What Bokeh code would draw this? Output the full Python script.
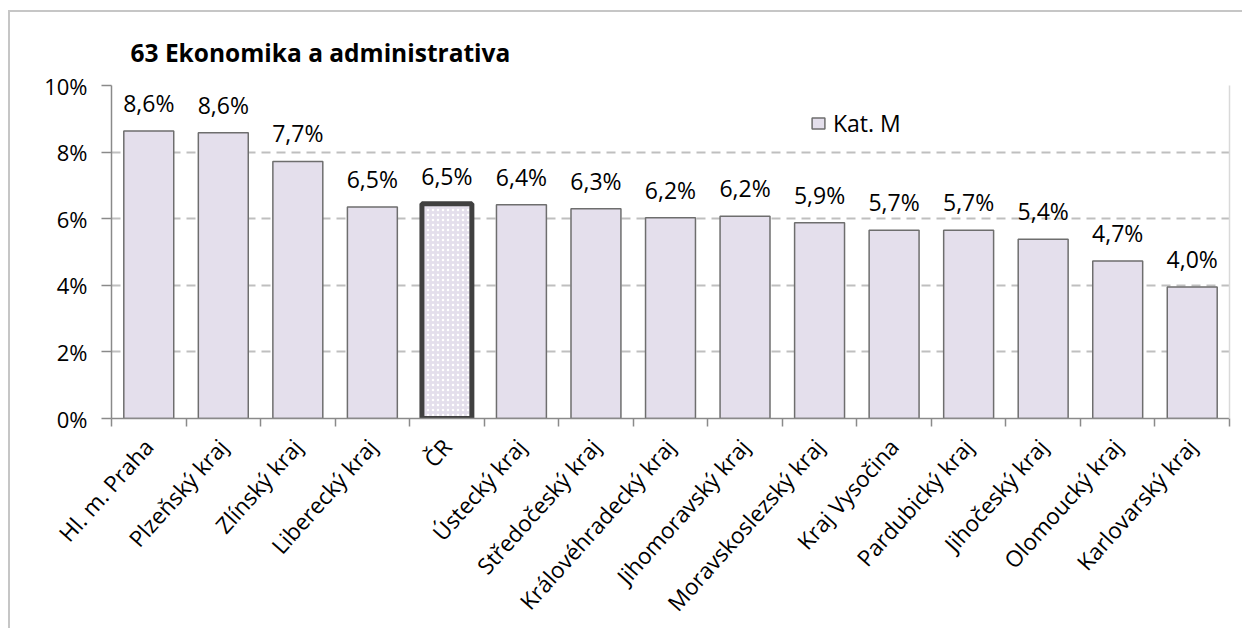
from bokeh.plotting import figure
from bokeh.models import (ColumnDataSource, LabelSet, Legend, LegendItem,
                          FixedTicker, PrintfTickFormatter, LinearAxis, Range1d)
from bokeh.core.properties import value
from bokeh.embed import file_html
from bokeh.resources import INLINE

# ---- data ----
chart_title = "63 Ekonomika a administrativa"
series_name = "Kat. M"
categories = ["Hl. m. Praha", "Plzeňský kraj", "Zlínský kraj", "Liberecký kraj", "ČR",
              "Ústecký kraj", "Středočeský kraj", "Královéhradecký kraj", "Jihomoravský kraj",
              "Moravskoslezský kraj", "Kraj Vysočina", "Pardubický kraj", "Jihočeský kraj",
              "Olomoucký kraj", "Karlovarský kraj"]
values = [8.63, 8.58, 7.72, 6.35, 6.45, 6.42, 6.30, 6.03, 6.07, 5.88, 5.65, 5.65, 5.38, 4.73, 3.95]
value_labels = ["8,6%", "8,6%", "7,7%", "6,5%", "6,5%", "6,4%", "6,3%", "6,2%", "6,2%",
                "5,9%", "5,7%", "5,7%", "5,4%", "4,7%", "4,0%"]
y_ticks = [0, 2, 4, 6, 8, 10]
highlight = "ČR"

FONT = "Open Sans"
n = len(categories)
xs = list(range(n))

main_idx = [i for i in xs if categories[i] != highlight]
hl_idx = [i for i in xs if categories[i] == highlight]

src_main = ColumnDataSource(dict(x=[xs[i] for i in main_idx], top=[values[i] for i in main_idx]))
src_hl = ColumnDataSource(dict(x=[xs[i] for i in hl_idx], top=[values[i] for i in hl_idx]))
src_lab = ColumnDataSource(dict(x=xs, top=values, label=value_labels))

p = figure(width=1234, height=618,
           x_range=Range1d(-0.5, n - 0.5), y_range=Range1d(y_ticks[0], y_ticks[-1]),
           output_backend="svg", toolbar_location=None,
           min_border_left=101, min_border_right=15, min_border_top=73, min_border_bottom=206)
p.styles = {"border-left": "2px solid #C6C6C6", "border-top": "2px solid #C6C6C6",
            "margin-top": "10px", "margin-left": "8px"}
p.outline_line_color = None
p.background_fill_color = "white"
p.border_fill_color = "white"

# title
p.title.text = chart_title
p.title.align = "left"
p.title.offset = 19
p.title.standoff = 33
p.title.text_font = FONT
p.title.text_font_size = "24.5px"
p.title.text_font_style = "bold"
p.title.text_color = "#000000"

# grid
p.xgrid.visible = False
p.ygrid.ticker = FixedTicker(ticks=y_ticks)
p.ygrid.grid_line_color = "#BFBFBF"
p.ygrid.grid_line_width = 2
p.ygrid.grid_line_dash = "9 6"

# y axis
yax = p.yaxis[0]
yax.ticker = FixedTicker(ticks=y_ticks)
yax.formatter = PrintfTickFormatter(format="%d%%")
yax.axis_line_color = "#8A8A8A"
yax.axis_line_width = 1.5
yax.major_tick_line_color = "#8A8A8A"
yax.major_tick_line_width = 1.5
yax.major_tick_out = 10
yax.major_tick_in = 0
yax.minor_tick_out = 0
yax.minor_tick_in = 0
yax.major_label_standoff = 14
yax.major_label_text_font = FONT
yax.major_label_text_font_size = "22px"
yax.major_label_text_color = "#000000"

# x axis
xax = p.xaxis[0]
xax.ticker = FixedTicker(ticks=xs, minor_ticks=[i - 0.5 for i in range(n + 1)])
xax.major_label_overrides = {i: c for i, c in zip(xs, categories)}
xax.axis_line_color = "#8A8A8A"
xax.axis_line_width = 1.5
xax.major_tick_out = 0
xax.major_tick_in = 0
xax.minor_tick_out = 8
xax.minor_tick_in = 0
xax.minor_tick_line_color = "#8A8A8A"
xax.minor_tick_line_width = 1.5
xax.major_label_orientation = 0.84
xax.major_label_standoff = 16
xax.major_label_text_font = FONT
xax.major_label_text_font_size = "22.5px"
xax.major_label_text_color = "#000000"

# right border of plot area
rax = LinearAxis(ticker=FixedTicker(ticks=[]), axis_line_color="#D9D9D9", axis_line_width=1.5,
                 major_tick_out=0, major_tick_in=0, minor_tick_out=0, minor_tick_in=0,
                 major_label_text_font_size="0px")
p.add_layout(rax, "right")

# bars
r_main = p.vbar(x="x", top="top", width=0.67, source=src_main,
                fill_color="#E4DFEC", line_color="#6E6E6E", line_width=1.5)
r_hl = p.vbar(x="x", top="top", width=0.67, source=src_hl,
              fill_color="#E4DFEC", line_color="#404040", line_width=5,
              hatch_pattern="dot", hatch_color="white", hatch_scale=5, hatch_weight=1.5)

# data labels
labels = LabelSet(x="x", y="top", text="label", source=src_lab,
                  y_offset=19, text_align="center", text_baseline="alphabetic",
                  text_font=value(FONT), text_font_size=value("23px"), text_color="#000000")
p.add_layout(labels)

# legend
legend = Legend(items=[LegendItem(label=series_name, renderers=[r_main])],
                location=(699, 279), border_line_color=None, background_fill_alpha=0,
                padding=0, margin=0, glyph_width=16, glyph_height=14, label_standoff=7,
                label_text_font=FONT, label_text_font_size="23px", label_text_color="#000000")
p.add_layout(legend)

open("out.html", "w").write(file_html(p, INLINE))
